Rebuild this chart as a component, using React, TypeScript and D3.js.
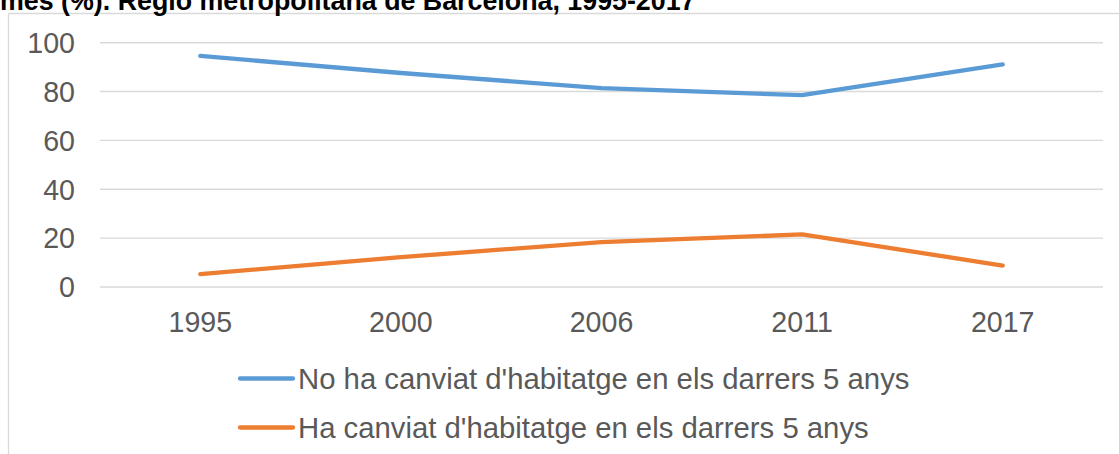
import * as d3 from "d3";
import React from "react";

const years = ["1995", "2000", "2006", "2011", "2017"];
const noCanvi = [94.6, 87.6, 81.4, 78.5, 91.1];
const siCanvi = [5.3, 12.2, 18.4, 21.5, 8.8];
const yTicks = [0, 20, 40, 60, 80, 100];
const seriesNames = [
  "No ha canviat d'habitatge en els darrers 5 anys",
  "Ha canviat d'habitatge en els darrers 5 anys",
];
const title = "mes (%). Regió metropolitana de Barcelona, 1995-2017";

const width = 1119;
const height = 454;
const colors = ["#5B9BD5", "#ED7D31"];
const font = "'Liberation Sans', Arial, sans-serif";

export default function App() {
  const x = d3.scalePoint().domain(years).range([100, 1103]).padding(0.5);
  const y = d3.scaleLinear().domain([0, 100]).range([287, 42.7]);

  const line = d3
    .line<number>()
    .x((_, i) => x(years[i]) as number)
    .y((d) => y(d));

  const series = [noCanvi, siCanvi];

  return (
    <svg
      width={width}
      height={height}
      style={{ position: "absolute", left: 0, top: 0, background: "#fff" }}
      fontFamily={font}
    >
      <rect width={width} height={height} fill="#fff" />
      {/* frame */}
      <line x1={8.5} x2={width} y1={13.5} y2={13.5} stroke="#d9d9d9" strokeWidth={1.3} />
      <line x1={8.5} x2={8.5} y1={13.5} y2={height} stroke="#d9d9d9" strokeWidth={1.3} />

      {/* title, clipped at the top like the source crop */}
      <text x={0} y={10} fontSize={26.8} fontWeight="bold" fill="#000">
        {title}
      </text>

      {/* grid + y labels */}
      {yTicks.map((t) => (
        <g key={t}>
          <line x1={100} x2={1103} y1={y(t)} y2={y(t)} stroke="#d9d9d9" strokeWidth={1.4} />
          <text x={75} y={y(t)} dy="0.36em" textAnchor="end" fontSize={28.6} fill="#595959">
            {t}
          </text>
        </g>
      ))}

      {/* x labels */}
      {years.map((yr) => (
        <text key={yr} x={x(yr)} y={332} textAnchor="middle" fontSize={28.6} fill="#595959">
          {yr}
        </text>
      ))}

      {/* series */}
      {series.map((s, i) => (
        <path
          key={i}
          d={line(s) as string}
          fill="none"
          stroke={colors[i]}
          strokeWidth={4.3}
          strokeLinecap="round"
          strokeLinejoin="round"
        />
      ))}

      {/* legend */}
      {seriesNames.map((name, i) => {
        const ly = 378.5 + i * 49;
        return (
          <g key={name}>
            <line x1={240} x2={293} y1={ly} y2={ly} stroke={colors[i]} strokeWidth={4.3} strokeLinecap="round" />
            <text x={298} y={ly} dy="0.36em" fontSize={29.3} fill="#595959">
              {name}
            </text>
          </g>
        );
      })}
    </svg>
  );
}
